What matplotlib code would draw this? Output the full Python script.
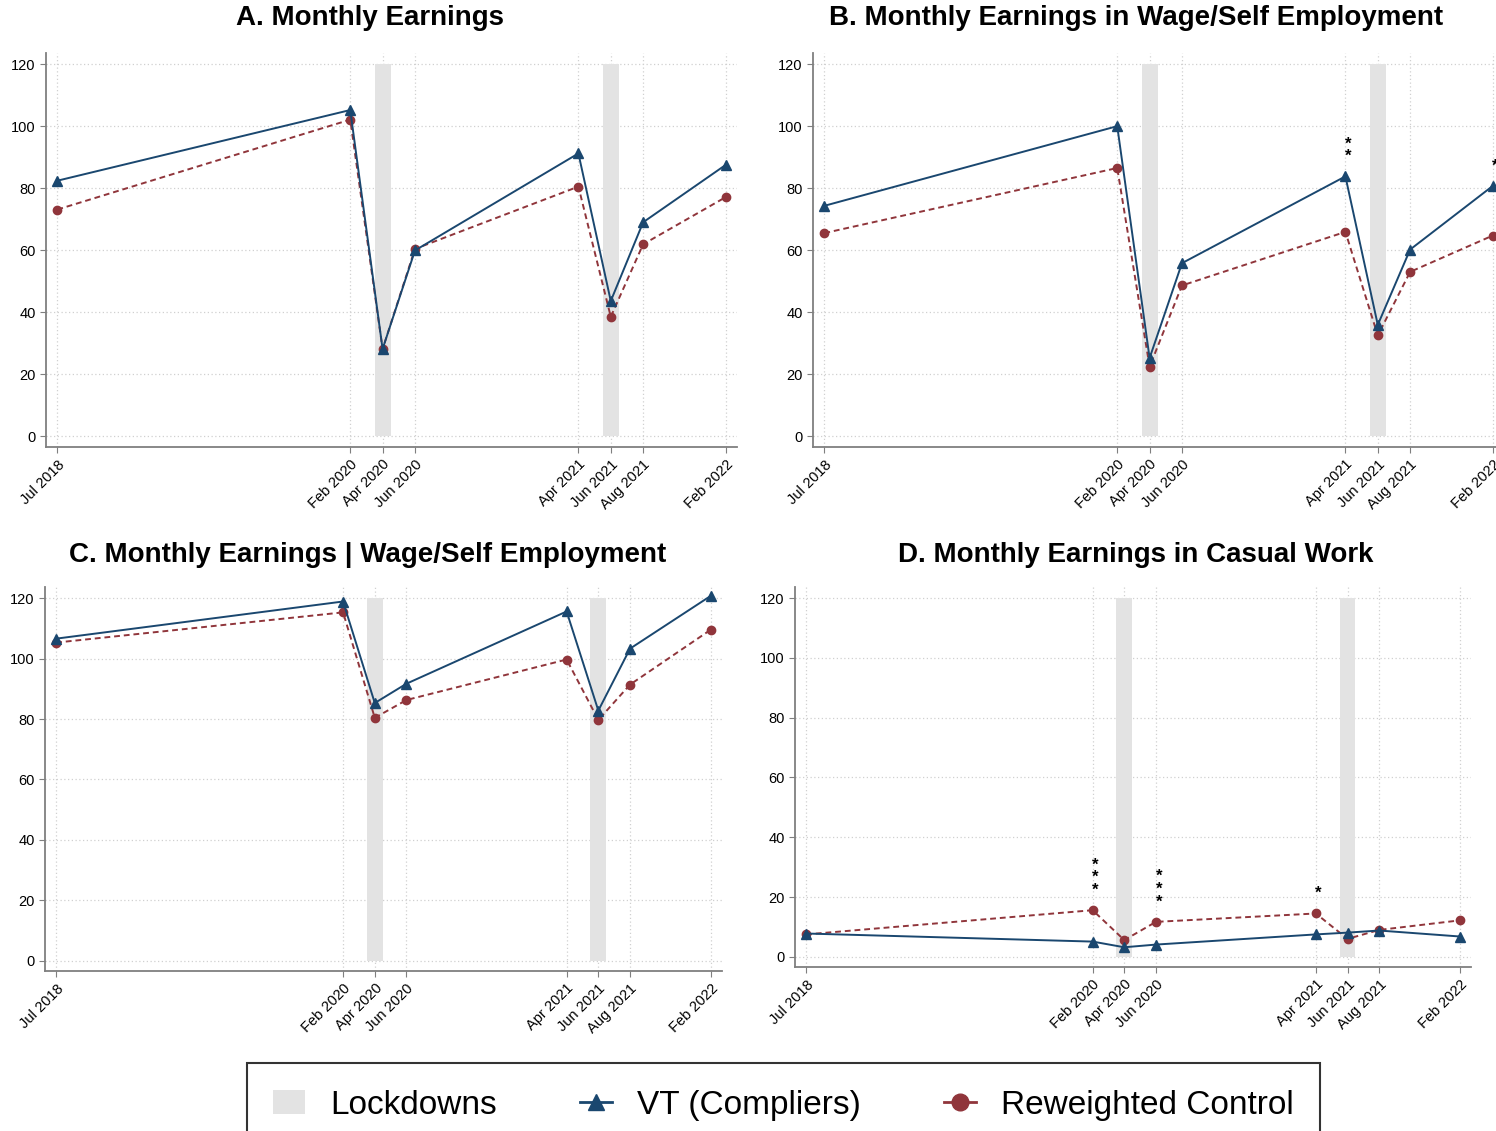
import matplotlib.pyplot as plt
from matplotlib.lines import Line2D
from matplotlib.patches import Patch

plt.rcParams['font.family'] = ['Liberation Sans', 'DejaVu Sans']

# survey rounds (months since Jul 2018)
rounds = ["Jul 2018", "Feb 2020", "Apr 2020", "Jun 2020",
          "Apr 2021", "Jun 2021", "Aug 2021", "Feb 2022"]
months = [0, 18.1, 20.1, 22.1, 32.2, 34.2, 36.2, 41.3]
lockdowns = [20.1, 34.2]

titles = ["A. Monthly Earnings",
          "B. Monthly Earnings in Wage/Self Employment",
          "C. Monthly Earnings | Wage/Self Employment",
          "D. Monthly Earnings in Casual Work"]

vt_a = [82.5, 105.3, 28.2, 60.0, 91.3, 43.7, 69.1, 87.6]
ctrl_a = [73.2, 102.2, 28.2, 60.5, 80.6, 38.6, 62.0, 77.2]

vt_b = [74.4, 100.1, 25.3, 55.9, 83.9, 36.0, 60.3, 80.8]
ctrl_b = [65.6, 86.6, 22.5, 48.7, 66.0, 32.6, 53.1, 64.8]

vt_c = [106.6, 118.9, 85.3, 91.7, 115.6, 82.8, 103.3, 120.8]
ctrl_c = [105.3, 115.3, 80.4, 86.3, 99.7, 79.7, 91.4, 109.6]

vt_d = [7.8, 5.1, 3.2, 4.1, 7.5, 8.1, 8.8, 6.8]
ctrl_d = [7.5, 15.6, 5.6, 11.7, 14.5, 6.0, 9.0, 12.2]

# significance stars: round index -> number of stars
stars_a = {}
stars_b = {4: 2, 7: 1}
stars_c = {}
stars_d = {1: 3, 3: 3, 4: 1}

navy = '#1a476f'
maroon = '#90353b'
shade = '#e3e3e3'

fig = plt.figure(figsize=(14.96, 11.31), dpi=100)

W, H = 1496, 1131
boxes = [(46, 737, 53, 447), (813, 1504, 53, 447),
         (45, 722, 587, 971), (795, 1471, 587, 967)]
title_pos = [(370, 18), (1136, 18), (368, 555), (1136, 555)]
series = [(vt_a, ctrl_a, stars_a), (vt_b, ctrl_b, stars_b),
          (vt_c, ctrl_c, stars_c), (vt_d, ctrl_d, stars_d)]

for (l, r, t, b), (tx, ty), title, (vt, ctrl, stars) in zip(boxes, title_pos, titles, series):
    ax = fig.add_axes([l / W, 1 - b / H, (r - l) / W, (b - t) / H])

    ax.bar(lockdowns, [120] * len(lockdowns), width=1.0, color=shade, zorder=1)

    ax.plot(months, ctrl, color=maroon, lw=1.4, ls=(0, (3, 2)),
            marker='o', ms=6, zorder=3)
    ax.plot(months, vt, color=navy, lw=1.4, marker='^', ms=7, zorder=4)

    # stars stacked in one label above the higher of the two points
    for i, n in stars.items():
        top = max(vt[i], ctrl[i])
        ax.annotate('\n'.join(['*'] * n), (months[i], top), xytext=(2, 9),
                    textcoords='offset points', ha='center', va='bottom',
                    fontsize=12, fontweight='bold', linespacing=0.8,
                    color='black', zorder=5)

    ax.set_xlim(-0.7, 42.0)
    ax.set_ylim(-3.4, 123.7)
    ax.set_yticks(range(0, 121, 20))
    ax.set_xticks(months)
    ax.set_xticklabels(rounds, rotation=45, ha='right', rotation_mode='anchor')
    ax.tick_params(axis='y', labelsize=10.5, length=4, color='#7f7f7f')
    ax.tick_params(axis='x', labelsize=10.5, length=4, color='#7f7f7f')
    ax.grid(True, ls=(0, (1, 2)), color='#d0d0d0', lw=0.9)
    ax.set_axisbelow(True)
    for side in ['top', 'right']:
        ax.spines[side].set_visible(False)
    for side in ['left', 'bottom']:
        ax.spines[side].set_color('#7f7f7f')
        ax.spines[side].set_linewidth(1.3)

    fig.text(tx / W, 1 - ty / H, title, ha='center', va='center',
             fontsize=20, fontweight='bold')

handles = [Patch(facecolor=shade, edgecolor='none'),
           Line2D([], [], color=navy, marker='^', ms=12, lw=2),
           Line2D([], [], color=maroon, marker='o', ms=12, lw=2)]
labels = ["Lockdowns", "VT (Compliers)", "Reweighted Control"]
leg = fig.legend(handles, labels, loc='upper center', bbox_to_anchor=(783.5 / W, 1 - 1063 / H),
                 ncol=3, fontsize=24, frameon=True, fancybox=False,
                 edgecolor='black', handlelength=0.95, columnspacing=2.5,
                 borderpad=0.8, handletextpad=0.75, borderaxespad=0)
leg.get_frame().set_linewidth(1.5)

fig.savefig('out.png', dpi=100)
